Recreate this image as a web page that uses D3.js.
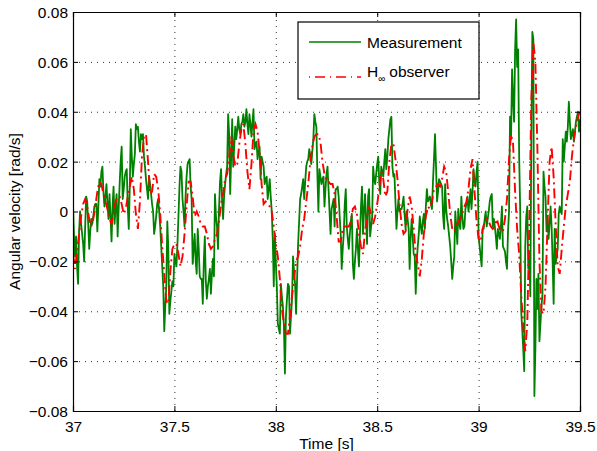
<!DOCTYPE html>
<html>
<head>
<meta charset="utf-8">
<script src="https://cdn.jsdelivr.net/npm/d3@7"></script>
<style>
  body { margin: 0; background: #fff; }
  svg { display: block; font-family: "Liberation Sans", Arial, sans-serif; }
</style>
</head>
<body>
<div id="chart"></div>
<script>
// time axis of the samples
var tStart = 37;
var dtMeas = 0.005;
var dtObs = 0.01;

// measured angular velocity, mrad/s, one value every 5 ms from 37 s
var measurementMrad = [
  3,-10,-18,-10,-22,-29,-8,0,-5,-9,
  -13,-20,-6,6,4,-5,-15,-8,-3,-5,
  -2,2,3,3,-8,2,13,10,16,18,
  8,2,6,11,3,-3,7,-2,-12,2,
  10,-5,2,7,-10,1,11,20,26,5,
  9,14,16,17,2,-7,10,33,22,14,
  19,23,35,33,34,28,24,31,29,31,
  22,18,13,9,5,14,11,7,3,0,
  -9,-6,-2,3,5,0,-6,-14,-22,-30,
  -48,-38,-30,-4,-15,-41,-36,-32,-28,-30,
  -17,-20,-22,-13,-2,10,18,16,5,0,
  -6,6,14,19,20,21,10,5,-21,-15,
  -9,-20,-25,-7,-15,-26,-27,-27,-37,-20,
  -10,-28,-35,-30,-27,-23,-33,-25,-19,-26,
  7,-2,-6,-15,1,12,17,5,-3,6,
  11,15,18,39,31,7,22,37,18,26,
  34,29,33,38,33,31,35,36,39,34,
  36,41,35,31,39,35,30,36,41,25,
  27,28,21,24,26,13,22,20,18,11,
  13,14,5,9,13,6,0,-11,-30,-9,
  -20,-30,-45,-47,-49,-29,-34,-38,-46,-65,
  -42,-35,-29,-30,-49,-42,-35,-18,-24,-29,
  -41,-27,-13,-4,5,7,10,13,5,12,
  18,20,21,25,22,19,24,29,39,36,
  34,15,0,17,14,11,13,14,2,9,
  15,18,9,0,-9,1,3,5,-6,9,
  9,10,6,-2,-9,-23,-15,-9,3,9,
  -6,-11,-15,-9,-4,-1,-21,-27,-20,-15,
  -7,-15,-22,-9,2,10,-9,0,7,-3,
  -13,6,9,-10,-6,-3,18,13,11,15,
  19,22,12,7,18,16,14,20,25,17,
  22,29,33,37,38,18,14,15,4,-7,
  0,5,0,1,1,3,6,-1,-7,0,
  -3,-7,-23,-10,-3,-10,-17,-18,-33,-20,
  -14,-9,-2,-6,-9,-4,-1,-7,2,9,
  4,5,6,3,1,12,21,31,18,4,
  8,13,12,11,10,-2,-7,11,1,-3,
  -6,-10,-14,-20,-27,-22,-18,0,-6,-13,
  1,-5,-7,6,-2,-7,-6,1,3,6,
  0,4,9,1,8,17,12,10,16,20,
  -10,-14,-18,-22,-7,-7,-3,0,-6,-3,
  0,4,6,7,-6,-3,-6,-10,-15,-7,
  -9,-11,-6,2,-14,-15,-16,-20,-23,-8,
  0,38,29,57,45,36,65,77,58,65,
  22,1,-40,-47,-55,-64,-14,-2,2,-23,
  -16,-34,30,72,69,-74,-55,-27,-39,-25,
  -52,-45,-38,-33,16,10,6,-8,-3,-11,
  -5,2,-6,-20,-37,-7,-21,-18,-15,-1,
  2,0,-1,29,20,26,32,28,34,44,
  36,29,31,33,28,32,36,38,40,32,
  37
];

// H-infinity observer estimate, mrad/s, one value every 10 ms from 37 s
var observerMrad = [
  -17,-23,-16,-9,-2,3,5,2,-3,-6,
  -3,2,8,12,11,7,4,1,-3,-5,
  -1,4,6,6,3,-1,1,6,10,14,
  9,-1,-7,4,22,30,31,20,7,8,
  15,14,9,-1,-14,-25,-36,-37,-24,-15,
  -13,-13,-17,-22,-18,-9,2,12,12,6,
  -2,0,-2,-5,-6,-6,-9,-13,-15,-14,
  -11,-9,-4,3,7,13,15,22,30,23,
  18,19,27,33,35,27,16,9,19,32,
  35,32,24,11,3,4,3,2,0,-6,
  -13,-18,-27,-39,-45,-49,-49,-42,-34,-27,
  -20,-18,-14,-7,-3,4,11,20,26,30,
  31,31,28,20,15,12,12,11,11,7,
  -2,-12,-12,-7,-6,-6,-6,-4,1,2,
  -1,-9,-14,-17,-8,-2,2,-1,-5,-2,
  3,9,16,13,6,8,20,27,27,21,
  13,3,-5,-9,-8,1,6,2,-7,-17,
  -21,-26,-19,-9,-2,2,1,4,9,10,
  11,10,13,18,16,8,-1,-7,-8,-6,
  -4,-3,0,2,4,9,17,21,8,-4,
  -11,-12,-7,-4,-3,-4,-6,-7,-6,-3,
  -6,-8,-8,-3,5,21,31,27,8,-7,
  -17,-33,-46,-56,-45,-5,45,68,60,25,
  -20,-40,-41,-30,-5,20,26,14,-5,-22,
  -25,-15,-6,2,7,12,22,29,34,38,
  40
];

var xTicks = [37, 37.5, 38, 38.5, 39, 39.5];
var yTicks = [-0.08, -0.06, -0.04, -0.02, 0, 0.02, 0.04, 0.06, 0.08];
var seriesNames = ["Measurement", "observer"];

var W = 597, H = 451;
var margin = {left: 73, top: 12, right: 17, bottom: 40};
var pw = W - margin.left - margin.right;
var ph = H - margin.top - margin.bottom;

var svg = d3.select("#chart").append("svg")
  .attr("width", W)
  .attr("height", H);

svg.append("rect").attr("width", W).attr("height", H).attr("fill", "#fff");

var g = svg.append("g")
  .attr("transform", "translate(" + margin.left + "," + margin.top + ")");

var x = d3.scaleLinear().domain([37, 39.5]).range([0, pw]);
var y = d3.scaleLinear().domain([-0.08, 0.08]).range([ph, 0]);

function fmtY(v) {
  if (Math.abs(v) < 1e-9) return "0";
  return (v < 0 ? "\u2212" : "") + Math.abs(v).toFixed(2);
}

// dotted grid
g.append("g").attr("class", "grid")
  .attr("transform", "translate(0," + ph + ")")
  .call(d3.axisBottom(x).tickValues(xTicks).tickSize(-ph).tickFormat(""))
  .call(function(s) { s.select(".domain").remove(); });
g.append("g").attr("class", "grid")
  .call(d3.axisLeft(y).tickValues(yTicks).tickSize(-pw).tickFormat(""))
  .call(function(s) { s.select(".domain").remove(); });
g.selectAll(".grid line")
  .attr("stroke", "#333")
  .attr("stroke-width", 1)
  .attr("stroke-dasharray", "1,5");

// data lines
g.append("clipPath").attr("id", "clip")
  .append("rect").attr("width", pw).attr("height", ph);

var lineMeas = d3.line()
  .x(function(d, i) { return x(tStart + i * dtMeas); })
  .y(function(d) { return y(d / 1000); });
var lineObs = d3.line()
  .x(function(d, i) { return x(tStart + i * dtObs); })
  .y(function(d) { return y(d / 1000); });

var plot = g.append("g").attr("clip-path", "url(#clip)");
plot.append("path")
  .datum(measurementMrad)
  .attr("d", lineMeas)
  .attr("fill", "none")
  .attr("stroke", "#008000")
  .attr("stroke-width", 1.8)
  .attr("stroke-linejoin", "round");
plot.append("path")
  .datum(observerMrad)
  .attr("d", lineObs)
  .attr("fill", "none")
  .attr("stroke", "#ff0000")
  .attr("stroke-width", 1.9)
  .attr("stroke-dasharray", "10,4,2,4");

// axes with inward ticks on all sides
var fs = "15.5px";
var axBottom = g.append("g")
  .attr("transform", "translate(0," + ph + ")")
  .call(d3.axisBottom(x).tickValues(xTicks).tickSize(-5).tickPadding(10)
    .tickFormat(function(d) { return String(d); }));
var axLeft = g.append("g")
  .call(d3.axisLeft(y).tickValues(yTicks).tickSize(-5).tickPadding(10).tickFormat(fmtY));
var axTop = g.append("g")
  .call(d3.axisTop(x).tickValues(xTicks).tickSize(-5).tickFormat(""));
var axRight = g.append("g")
  .attr("transform", "translate(" + pw + ",0)")
  .call(d3.axisRight(y).tickValues(yTicks).tickSize(-5).tickFormat(""));

[axBottom, axLeft, axTop, axRight].forEach(function(a) {
  a.selectAll("path.domain").attr("stroke", "#000").attr("stroke-width", 1.2);
  a.selectAll(".tick line").attr("stroke", "#000");
  a.selectAll("text")
    .attr("fill", "#000")
    .style("font-size", fs)
    .style("font-family", "'Liberation Sans', Arial, sans-serif");
});
axLeft.selectAll("text").attr("x", -5).attr("dy", "0.35em");
axBottom.selectAll("text").attr("y", 8).attr("dy", "0.85em");

// axis titles
svg.append("text")
  .attr("x", margin.left + pw / 2)
  .attr("y", 449)
  .attr("text-anchor", "middle")
  .style("font-size", fs)
  .text("Time [s]");
svg.append("text")
  .attr("transform", "translate(20," + (margin.top + ph / 2) + ") rotate(-90)")
  .attr("text-anchor", "middle")
  .style("font-size", fs)
  .text("Angular velocity [rad/s]");

// legend
var leg = svg.append("g").attr("transform", "translate(298,22)");
leg.append("rect")
  .attr("width", 181).attr("height", 77)
  .attr("fill", "#fff").attr("stroke", "#000").attr("stroke-width", 1.2);
leg.append("line")
  .attr("x1", 11).attr("x2", 63).attr("y1", 20).attr("y2", 20)
  .attr("stroke", "#008000").attr("stroke-width", 1.4);
leg.append("text").attr("x", 69).attr("y", 26).style("font-size", fs).text(seriesNames[0]);
leg.append("line")
  .attr("x1", 11).attr("x2", 63).attr("y1", 55).attr("y2", 55)
  .attr("stroke", "#ff0000").attr("stroke-width", 1.4)
  .attr("stroke-dasharray", "1,5,10,5");
var t2 = leg.append("text").attr("x", 69).attr("y", 55).style("font-size", fs);
t2.append("tspan").text("H");
t2.append("tspan").attr("dy", 5).style("font-size", "10px").text("\u221e");
t2.append("tspan").attr("dy", -5).attr("dx", 4).text(seriesNames[1]);
</script>
</body>
</html>
